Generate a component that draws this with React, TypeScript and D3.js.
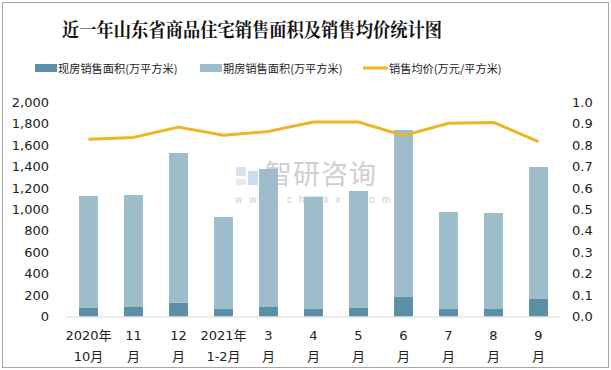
import React, { useEffect, useRef } from 'react';
import * as d3 from 'd3';

const months = ['2020年|10月', '11|月', '12|月', '2021年|1-2月', '3|月', '4|月', '5|月', '6|月', '7|月', '8|月', '9|月'];
const existingArea = [80, 89, 129, 70, 89, 70, 80, 182, 70, 70, 164];
const futuresArea = [1046, 1046, 1399, 860, 1289, 1050, 1093, 1561, 907, 897, 1233];
const avgPrice = [0.828, 0.837, 0.885, 0.847, 0.865, 0.909, 0.909, 0.845, 0.903, 0.907, 0.817];
const leftTicks = [0, 200, 400, 600, 800, 1000, 1200, 1400, 1600, 1800, 2000];
const rightTicks = [0, 0.1, 0.2, 0.3, 0.4, 0.5, 0.6, 0.7, 0.8, 0.9, 1.0];

export default function App() {
  const svgRef = useRef<SVGSVGElement>(null);

  useEffect(() => {
    if (!svgRef.current) return;
    const svg = d3.select(svgRef.current);
    svg.selectAll('*').remove();

    const width = 611;
    const height = 370;
    const font = 'Tahoma, "DejaVu Sans", "Noto Sans CJK SC", sans-serif';
    const cjk = '"Noto Sans CJK SC", sans-serif';
    const dark = '#5b8fa6';
    const light = '#9dbdca';
    const orange = '#f0b323';

    svg.append('rect').attr('x', 0).attr('y', 0).attr('width', width).attr('height', height).attr('fill', '#fff');
    svg.append('rect').attr('x', 2.5).attr('y', 2.5).attr('width', width - 5).attr('height', height - 5)
      .attr('fill', 'none').attr('stroke', '#a6a6a6').attr('stroke-width', 1);

    // title
    svg.append('text').attr('x', 62).attr('y', 37)
      .attr('font-family', '"Noto Serif CJK SC", "Noto Sans CJK SC", serif').attr('font-weight', 'bold')
      .attr('font-size', 19).attr('textLength', 380).attr('lengthAdjust', 'spacingAndGlyphs')
      .attr('fill', '#111').text('近一年山东省商品住宅销售面积及销售均价统计图');

    // legend
    const lg = svg.append('g').attr('font-family', cjk).attr('font-size', 11.2).attr('fill', '#222');
    lg.append('rect').attr('x', 35).attr('y', 64).attr('width', 22).attr('height', 8).attr('fill', dark);
    lg.append('text').attr('x', 58).attr('y', 72.5).text('现房销售面积(万平方米)');
    lg.append('rect').attr('x', 200).attr('y', 64).attr('width', 22).attr('height', 8).attr('fill', light);
    lg.append('text').attr('x', 223).attr('y', 72.5).text('期房销售面积(万平方米)');
    lg.append('line').attr('x1', 363).attr('x2', 388).attr('y1', 68).attr('y2', 68).attr('stroke', orange).attr('stroke-width', 3);
    lg.append('text').attr('x', 389).attr('y', 72.5).text('销售均价(万元/平方米)');

    const x = d3.scaleBand<number>().domain(d3.range(months.length)).range([66, 561]).paddingInner(0.58).paddingOuter(0.29);
    const yL = d3.scaleLinear().domain([0, 2000]).range([316.5, 102.5]);
    const yR = d3.scaleLinear().domain([0, 1]).range([316.5, 102.5]);

    // watermark
    const wm = svg.append('g').attr('opacity', 0.55);
    wm.append('rect').attr('x', 236).attr('y', 167).attr('width', 10).attr('height', 9).attr('fill', '#b9cde3');
    wm.append('rect').attr('x', 248).attr('y', 171).attr('width', 10).attr('height', 14).attr('fill', '#9fc3e3');
    wm.append('rect').attr('x', 236).attr('y', 179).attr('width', 10).attr('height', 6).attr('fill', '#cfdcea');
    wm.append('text').attr('x', 265).attr('y', 184).attr('font-family', cjk).attr('font-size', 27)
      .attr('fill', '#a8a8a8').attr('letter-spacing', 1).text('智研咨询');
    wm.append('text').attr('x', 235).attr('y', 203).attr('font-family', 'Arial, sans-serif').attr('font-size', 10)
      .attr('fill', '#a8a8a8').attr('letter-spacing', 7).text('www.chyxx.com');

    // bars
    const bars = svg.append('g');
    bars.selectAll('.ex').data(existingArea).enter().append('rect')
      .attr('x', (_, i) => x(i)!).attr('width', x.bandwidth())
      .attr('y', d => yL(d)).attr('height', d => yL(0) - yL(d)).attr('fill', dark);
    bars.selectAll('.fu').data(futuresArea).enter().append('rect')
      .attr('x', (_, i) => x(i)!).attr('width', x.bandwidth())
      .attr('y', (d, i) => yL(d + existingArea[i])).attr('height', d => yL(0) - yL(d)).attr('fill', light);

    // baseline
    svg.append('line').attr('x1', 66).attr('x2', 561).attr('y1', yL(0) + 0.5).attr('y2', yL(0) + 0.5)
      .attr('stroke', '#d9d9d9').attr('stroke-width', 1);

    // line
    const line = d3.line<number>().x((_, i) => x(i)! + x.bandwidth() / 2).y(d => yR(d));
    svg.append('path').datum(avgPrice).attr('d', line).attr('fill', 'none')
      .attr('stroke', orange).attr('stroke-width', 3).attr('stroke-linejoin', 'round');

    // axes labels
    const ax = svg.append('g').attr('font-family', font).attr('font-size', 13).attr('fill', '#222');
    ax.selectAll('.lt').data(leftTicks).enter().append('text')
      .attr('x', 49).attr('y', d => yL(d) + 4.5).attr('text-anchor', 'end')
      .text(d => d3.format(',')(d));
    ax.selectAll('.rt').data(rightTicks).enter().append('text')
      .attr('x', 572).attr('y', d => yR(d) + 4.5).attr('text-anchor', 'start')
      .text(d => d3.format('.1f')(d));

    months.forEach((m, i) => {
      const [a, b] = m.split('|');
      const cx = x(i)! + x.bandwidth() / 2;
      ax.append('text').attr('x', cx).attr('y', 340).attr('text-anchor', 'middle').text(a);
      ax.append('text').attr('x', cx).attr('y', 361).attr('text-anchor', 'middle').text(b);
    });
  }, []);

  return (
    <svg ref={svgRef} width={611} height={370} viewBox="0 0 611 370"
      style={{ position: 'absolute', left: 0, top: 0 }} />
  );
}
